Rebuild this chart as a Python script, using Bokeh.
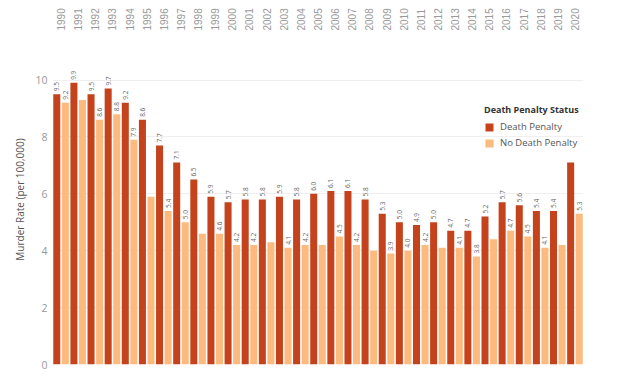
from math import pi
from bokeh.plotting import figure
from bokeh.models import ColumnDataSource, FactorRange, Range1d, Legend, LegendItem
from bokeh.transform import dodge
from bokeh.core.properties import value
from bokeh.embed import file_html
from bokeh.resources import INLINE

years = [str(y) for y in range(1990, 2021)]
death_penalty = [9.5, 9.9, 9.5, 9.7, 9.2, 8.6, 7.7, 7.1, 6.5, 5.9, 5.7, 5.8, 5.8, 5.9, 5.8, 6.0,
                 6.1, 6.1, 5.8, 5.3, 5.0, 4.9, 5.0, 4.7, 4.7, 5.2, 5.7, 5.6, 5.4, 5.4, 7.1]
no_death_penalty = [9.2, 9.3, 8.6, 8.8, 7.9, 5.9, 5.4, 5.0, 4.6, 4.6, 4.2, 4.2, 4.3, 4.1, 4.2, 4.2,
                    4.5, 4.2, 4.0, 3.9, 4.0, 4.2, 4.1, 4.1, 3.8, 4.4, 4.7, 4.5, 4.1, 4.2, 5.3]
# which bars carry a visible value label (Tableau hides some)
dp_shown = [1] * 30 + [0]
ndp_shown = [1, 0, 1, 1, 1, 0, 1, 1, 0, 1, 1, 1, 0, 1, 1, 0,
             1, 1, 0, 1, 1, 1, 0, 1, 1, 0, 1, 1, 1, 0, 1]
y_ticks = [0, 2, 4, 6, 8, 10]

dp_labels = [f"{v:.1f}" if s else "" for v, s in zip(death_penalty, dp_shown)]
ndp_labels = [f"{v:.1f}" if s else "" for v, s in zip(no_death_penalty, ndp_shown)]

src = ColumnDataSource(dict(year=years, dp=death_penalty, ndp=no_death_penalty,
                            dpl=dp_labels, ndpl=ndp_labels))

DARK = "#c4421c"
LIGHT = "#fdba7e"

p = figure(width=598, height=372, x_range=FactorRange(*years, range_padding=0),
           y_range=Range1d(0, 11.6), x_axis_location="above",
           output_backend="svg", toolbar_location=None,
           min_border_left=0, min_border_right=25, min_border_top=34, min_border_bottom=8)
p.margin = (0, 0, 0, 10)

r1 = p.vbar(x=dodge("year", -0.25, range=p.x_range), top="dp", width=0.41, source=src,
            fill_color=DARK, line_color=None)
r2 = p.vbar(x=dodge("year", 0.25, range=p.x_range), top="ndp", width=0.41, source=src,
            fill_color=LIGHT, line_color=None)

for col, lab, off in (("dp", "dpl", -0.25), ("ndp", "ndpl", 0.25)):
    p.text(x=dodge("year", off, range=p.x_range), y=col, text=lab, source=src,
           angle=pi / 2, text_align="left", text_baseline="middle", x_offset=0, y_offset=-3,
           text_font=value("Open Sans"), text_font_size="6.5px", text_color="#666666")

p.outline_line_color = None
p.xgrid.grid_line_color = None
p.ygrid.grid_line_color = "#efefef"
p.ygrid.ticker = y_ticks

xa = p.xaxis[0]
xa.axis_line_color = None
xa.major_tick_line_color = None
xa.minor_tick_line_color = None
xa.major_tick_out = 0
xa.major_tick_in = 0
xa.major_label_orientation = pi / 2
xa.major_label_text_font = "Liberation Sans"
xa.major_label_text_font_size = "10px"
xa.major_label_text_color = "#999999"
xa.major_label_standoff = 4

ya = p.yaxis[0]
ya.ticker = y_ticks
ya.axis_line_color = None
ya.major_tick_line_color = None
ya.minor_tick_line_color = None
ya.major_tick_out = 0
ya.major_tick_in = 0
ya.major_label_text_font = "Open Sans"
ya.major_label_text_font_size = "10.5px"
ya.major_label_text_color = "#999999"
ya.major_label_standoff = 5
ya.axis_label = "Murder Rate (per 100,000)"
ya.axis_label_text_font = "Open Sans"
ya.axis_label_text_font_style = "normal"
ya.axis_label_text_font_size = "10px"
ya.axis_label_text_color = "#555555"
ya.axis_label_standoff = 5

legend = Legend(items=[LegendItem(label="Death Penalty", renderers=[r1]),
                       LegendItem(label="No Death Penalty", renderers=[r2])],
                location=(432, 215), title="Death Penalty Status",
                title_text_font="Open Sans", title_text_font_style="bold",
                title_text_font_size="9px", title_text_color="#333333", title_standoff=4,
                label_text_font="Open Sans", label_text_font_size="9.5px",
                label_text_color="#555555", glyph_width=10, glyph_height=10,
                label_height=10, label_standoff=6, spacing=3, padding=0, margin=0,
                background_fill_alpha=0, border_line_alpha=0)
p.add_layout(legend)

open("out.html", "w").write(file_html(p, INLINE))
